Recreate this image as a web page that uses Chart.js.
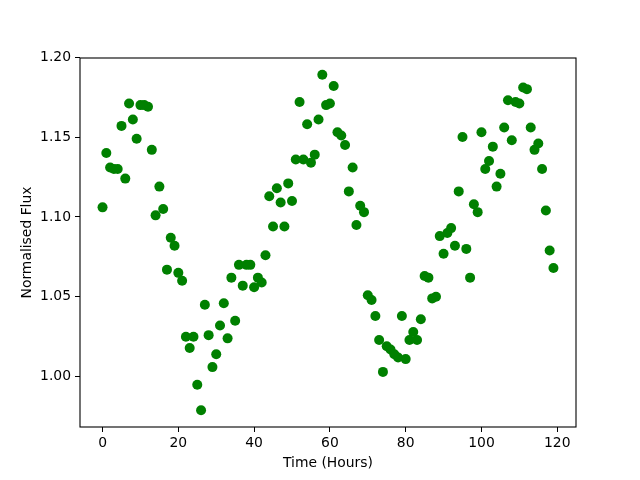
<!DOCTYPE html>
<html>
<head>
<meta charset="utf-8">
<script src="https://cdn.jsdelivr.net/npm/chart.js@4"></script>
<style>
html,body{margin:0;padding:0;background:#fff;}
#wrap{width:640px;height:480px;}
</style>
</head>
<body>
<div id="wrap"><canvas id="c" width="640" height="480"></canvas></div>
<script>
const hours = Array.from({length:120}, (_, i) => i);
const flux = [
1.106,1.140,1.131,1.130,1.130,1.157,1.124,1.171,1.161,1.149,
1.170,1.170,1.169,1.142,1.101,1.119,1.105,1.067,1.087,1.082,
1.065,1.060,1.025,1.018,1.025,0.995,0.979,1.045,1.026,1.006,
1.014,1.032,1.046,1.024,1.062,1.035,1.070,1.057,1.070,1.070,
1.056,1.062,1.059,1.076,1.113,1.094,1.118,1.109,1.094,1.121,
1.110,1.136,1.172,1.136,1.158,1.134,1.139,1.161,1.189,1.170,
1.171,1.182,1.153,1.151,1.145,1.116,1.131,1.095,1.107,1.103,
1.051,1.048,1.038,1.023,1.003,1.019,1.017,1.014,1.012,1.038,
1.011,1.023,1.028,1.023,1.036,1.063,1.062,1.049,1.050,1.088,
1.077,1.090,1.093,1.082,1.116,1.150,1.080,1.062,1.108,1.103,
1.153,1.130,1.135,1.144,1.119,1.127,1.156,1.173,1.148,1.172,
1.171,1.181,1.180,1.156,1.142,1.146,1.130,1.104,1.079,1.068
];
const xTicks = [0,20,40,60,80,100,120];
const yTicks = [1.00,1.05,1.10,1.15,1.20];

const FONT = {family:'"DejaVu Sans", sans-serif', size:13.9};

const frame = {
  id:'frame',
  afterDraw(chart){
    const {ctx, chartArea:a} = chart;
    ctx.save();
    ctx.strokeStyle='#000';
    ctx.lineWidth=1.1;
    ctx.strokeRect(a.left, a.top, a.right-a.left, a.bottom-a.top);
    ctx.restore();
  }
};

new Chart(document.getElementById('c'), {
  type:'scatter',
  data:{datasets:[{
    data: hours.map((h,i)=>({x:h, y:flux[i]})),
    backgroundColor:'#008000',
    borderColor:'#008000',
    borderWidth:0,
    pointRadius:5,
    pointHoverRadius:5
  }]},
  options:{
    responsive:false,
    animation:false,
    events:[],
    layout:{padding:{left:0, top:58, right:64, bottom:0}},
    plugins:{legend:{display:false}, tooltip:{enabled:false}},
    scales:{
      x:{
        type:'linear', min:-5.95, max:124.95,
        afterBuildTicks(s){ s.ticks = xTicks.map(v=>({value:v})); },
        afterFit(s){ s.height = 53; },
        grid:{display:true, drawOnChartArea:false, drawTicks:true, tickLength:5, color:'#000', lineWidth:1},
        border:{display:false},
        ticks:{color:'#000', font:FONT, padding:3, maxRotation:0, callback:v=>String(v)},
        title:{display:true, text:'Time (Hours)', color:'#000', font:FONT, padding:{top:0, bottom:8}}
      },
      y:{
        type:'linear', min:0.9685, max:1.1995,
        afterBuildTicks(s){ s.ticks = yTicks.map(v=>({value:v})); },
        afterFit(s){ s.width = 80; },
        grid:{display:true, drawOnChartArea:false, drawTicks:true, tickLength:5, color:'#000', lineWidth:1},
        border:{display:false},
        ticks:{color:'#000', font:FONT, padding:4, callback:v=>Number(v).toFixed(2)},
        title:{display:true, text:'Normalised Flux', color:'#000', font:FONT, padding:{top:19, bottom:0}}
      }
    }
  },
  plugins:[frame]
});
</script>
</body>
</html>
